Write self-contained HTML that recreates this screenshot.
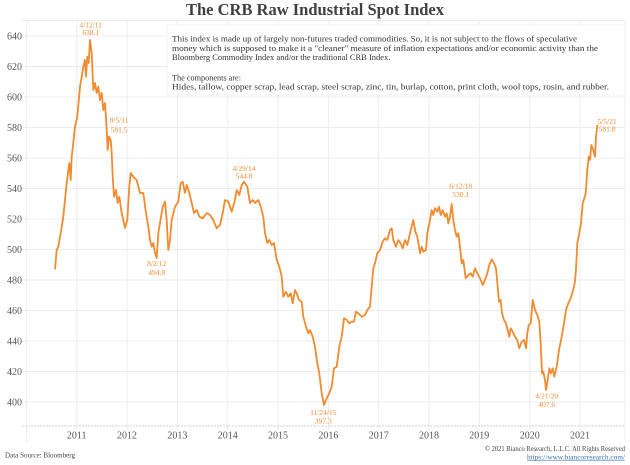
<!DOCTYPE html>
<html><head><meta charset="utf-8"><style>
html,body{margin:0;padding:0;background:#fff;}
svg{display:block;}
text{font-family:"Liberation Serif",serif;}
</style></head><body>
<svg width="630" height="465" viewBox="0 0 630 465" xmlns="http://www.w3.org/2000/svg">
<rect width="630" height="465" fill="#fff"/>
<!-- title -->
<text x="315" y="15" text-anchor="middle" font-size="16.5" font-weight="bold" fill="#404040" textLength="258" lengthAdjust="spacingAndGlyphs">The CRB Raw Industrial Spot Index</text>
<!-- grid -->
<g stroke="#ececec" stroke-width="1">
<line x1="22" y1="20.5" x2="625" y2="20.5"/>
<line x1="22" y1="36" x2="625" y2="36"/>
<line x1="22" y1="66.5" x2="625" y2="66.5"/>
<line x1="22" y1="97" x2="625" y2="97"/>
<line x1="22" y1="127.5" x2="625" y2="127.5"/>
<line x1="22" y1="158" x2="625" y2="158"/>
<line x1="22" y1="188.5" x2="625" y2="188.5"/>
<line x1="22" y1="219" x2="625" y2="219"/>
<line x1="22" y1="249.5" x2="625" y2="249.5"/>
<line x1="22" y1="280" x2="625" y2="280"/>
<line x1="22" y1="310.5" x2="625" y2="310.5"/>
<line x1="22" y1="341" x2="625" y2="341"/>
<line x1="22" y1="371.5" x2="625" y2="371.5"/>
<line x1="22" y1="402" x2="625" y2="402"/>
<line x1="26.7" y1="20" x2="26.7" y2="442"/>
<line x1="76.7" y1="20" x2="76.7" y2="430"/>
<line x1="127" y1="20" x2="127" y2="430"/>
<line x1="177.4" y1="20" x2="177.4" y2="430"/>
<line x1="227.7" y1="20" x2="227.7" y2="430"/>
<line x1="278" y1="20" x2="278" y2="430"/>
<line x1="328.4" y1="20" x2="328.4" y2="430"/>
<line x1="378.7" y1="20" x2="378.7" y2="430"/>
<line x1="429" y1="20" x2="429" y2="430"/>
<line x1="479.3" y1="20" x2="479.3" y2="430"/>
<line x1="529.7" y1="20" x2="529.7" y2="430"/>
<line x1="580" y1="20" x2="580" y2="430"/>
<line x1="625" y1="20" x2="625" y2="442"/>
</g>
<line x1="22" y1="426" x2="625" y2="426" stroke="#d0d0d0" stroke-width="1" stroke-dasharray="2,1"/>
<!-- text box -->
<rect x="167" y="25" width="458" height="70" fill="#fff" stroke="#f0f0f0" stroke-width="0.8"/>
<g font-size="8.5" fill="#333">
<text x="172" y="41.5" textLength="405" lengthAdjust="spacingAndGlyphs">This index is made up of largely non-futures traded commodities. So, it is not subject to the flows of speculative</text>
<text x="172" y="51" textLength="426" lengthAdjust="spacingAndGlyphs">money which is supposed to make it a "cleaner" measure of inflation expectations and/or economic activity than the</text>
<text x="172" y="60">Bloomberg Commodity Index and/or the traditional CRB Index.</text>
<text x="172" y="80.5" textLength="69" lengthAdjust="spacingAndGlyphs">The components are:</text>
<text x="172" y="89.5" textLength="437" lengthAdjust="spacingAndGlyphs">Hides, tallow, copper scrap, lead scrap, steel scrap, zinc, tin, burlap, cotton, print cloth, wool tops, rosin, and rubber.</text>
</g>
<!-- y labels -->
<g font-size="10" fill="#555" text-anchor="end">
<text x="22" y="39.5">640</text>
<text x="22" y="70">620</text>
<text x="22" y="100.5">600</text>
<text x="22" y="131">580</text>
<text x="22" y="161.5">560</text>
<text x="22" y="192">540</text>
<text x="22" y="222.5">520</text>
<text x="22" y="253">500</text>
<text x="22" y="283.5">480</text>
<text x="22" y="314">460</text>
<text x="22" y="344.5">440</text>
<text x="22" y="375">420</text>
<text x="22" y="405.5">400</text>
</g>
<!-- x labels -->
<g font-size="10" fill="#555" text-anchor="middle">
<text x="76.7" y="438.5">2011</text>
<text x="127" y="438.5">2012</text>
<text x="177.4" y="438.5">2013</text>
<text x="227.7" y="438.5">2014</text>
<text x="278" y="438.5">2015</text>
<text x="328.4" y="438.5">2016</text>
<text x="378.7" y="438.5">2017</text>
<text x="429" y="438.5">2018</text>
<text x="479.3" y="438.5">2019</text>
<text x="529.7" y="438.5">2020</text>
<text x="580" y="438.5">2021</text>
</g>
<!-- series -->
<polyline fill="none" stroke="#f28a2e" stroke-width="1.8" stroke-linejoin="round" points="55,269.3 56.7,250 58.3,246.7 60.7,233 63.3,216.7 66.7,183 69.3,163 70.7,180 71.7,156.7 73.3,143 75,126.7 77.3,116.7 80,86.7 81.7,76.7 83.3,66.7 85,60 86,76.7 87.3,56.7 88.7,63 90,40 91.7,53 93.3,90 95,83 96.7,93 98.3,86.7 100,100 101.7,93 103.3,110 105,103 106.7,130 107.7,150 109,136.7 110.7,140 111.7,153 112.7,176.7 114,196.7 116,190 117.7,203 119.3,196.7 121.7,213 125,228 127.3,220 129.3,186.7 130.7,173 133.3,176.7 136.7,180 140,193 143.3,193 146,213 148.3,226.7 150,240 151.7,246.7 153.3,243 155,253 156.7,258 158.3,233 160,223 162.7,206.7 165,201.7 166.7,220 168.3,250 170,240 171.7,220 175,206.7 178.3,201.7 180.7,183 182.7,181.7 185,193 186.7,185 189.3,193 191.7,203 194,213 196.7,210 199.3,216.7 202.7,218.3 206.7,213 210,215 213.3,220 216.7,228.3 220,225 222.7,213 225,200 228.3,201.7 231.7,211.7 235,200 236.7,190 239.3,195 241.7,185 244,181.7 247.3,186.7 250,203 252.7,200 255,203 258.3,200 260.7,206.7 263.3,216.7 265,233 267.3,243 269.3,240 271.7,245 274,243 276.7,260 279.3,266.7 281.7,276.7 283.3,296.7 286,291.7 288.3,296.7 290.7,293.3 292.7,303.3 295,290 296.7,293.3 299,300 301.7,301.7 303.3,316.7 306,326.7 308.3,333.3 310,330 312.7,336.7 315,346.7 317.3,363.3 319.3,373.3 321.7,393.3 324,405 326.7,398.3 329.3,393.3 331.7,386.7 334,368.3 336.7,366.7 339.3,346.7 341.7,336.7 344,318.3 346.7,320 349.3,323.3 351.7,321.7 354,321.7 356,311.7 358.3,313.3 361.7,316.7 365,315 367.3,310 370,306.7 371.7,286.7 373.3,268.3 375,263.3 377.3,253.3 380,250 382.7,241.7 385,238.3 387.3,240 390,230 391.7,228.3 393.3,240 396,246.7 398.3,240 400.7,243.3 402.7,248.3 405,240 407.3,245 410,233.3 413.3,220 415.3,231.7 417.3,236.7 420,253.3 421.7,246.7 423.3,251.7 426,250 427.3,233.3 430,220 431.7,210 433.3,215 435,208.3 437.3,211.7 439,206.7 440.7,215 442.7,210 445,216.7 446.7,213.3 448.3,223.3 450,216.7 451.7,204 453.3,220 455,230 456.7,236.7 458.3,233.3 460,246.7 461.7,263.3 463.3,260 465.7,278.3 468.3,275 470.7,273.3 472.7,276.7 475,268.3 477.3,273.3 480,278.3 482.7,285 485,280 487.3,273.3 489.3,265 491.7,259.3 494,263.3 496,268.3 497.7,286.7 499,301.7 500.7,300 502,313.3 504,320 506,323.3 507.7,330 509.3,336.7 510.7,328.3 512.7,331.7 515,336.7 517.3,340 519.3,348.3 521.7,341.7 524,340 526,348.3 527.3,333.3 528.7,325 530.7,323.3 532.7,300 535,310 537.3,315 539.3,321.7 540.7,343.3 542,373.3 543.3,371.7 545,380 546,390 547.7,380 549.3,368.3 551,373.3 552.7,368.3 554.3,376.7 556.7,366.7 559,350 561.7,336.7 564,323.3 566,310 568.3,303.3 570.7,298.3 572.7,291.7 574.7,283.3 576,270 577.3,243.3 579.3,233.3 581,223.3 582.7,203.3 584.3,198.3 585.7,193.3 587.3,170 588.7,156.7 590,160 591.3,145 593.3,150 595,156.7 596,136.7 597.3,125"/>
<!-- annotations -->
<g font-size="7.5" fill="#f28a2e" text-anchor="middle">
<text x="90.7" y="27.5">4/12/11</text>
<text x="90.7" y="35">638.1</text>
<text x="119" y="122.5">8/5/11</text>
<text x="119" y="132.5">581.5</text>
<text x="156.7" y="266">8/2/12</text>
<text x="156.7" y="275">494.8</text>
<text x="244" y="171">4/29/14</text>
<text x="244" y="178.5">544.8</text>
<text x="323.3" y="415">11/24/15</text>
<text x="323.3" y="423.5">397.3</text>
<text x="460.7" y="188.5">6/12/18</text>
<text x="460.7" y="197">530.1</text>
<text x="546.7" y="398.5">4/21/20</text>
<text x="546.7" y="407">407.6</text>
<text x="607" y="124">5/5/21</text>
<text x="607" y="131.5">581.8</text>
</g>
<!-- footer -->
<text x="5" y="457.5" font-size="7" fill="#444" textLength="70" lengthAdjust="spacingAndGlyphs">Data Source: Bloomberg</text>
<text x="625" y="451" font-size="7" fill="#444" text-anchor="end" textLength="140" lengthAdjust="spacingAndGlyphs">© 2021 Bianco Research, L.L.C. All Rights Reserved</text>
<text x="625" y="459.5" font-size="7" fill="#3a6fb5" text-anchor="end" textLength="98" lengthAdjust="spacingAndGlyphs">https://www.biancoresearch.com/</text>
<line x1="527" y1="460.5" x2="625" y2="460.5" stroke="#3a6fb5" stroke-width="0.5"/>
</svg>
</body></html>
